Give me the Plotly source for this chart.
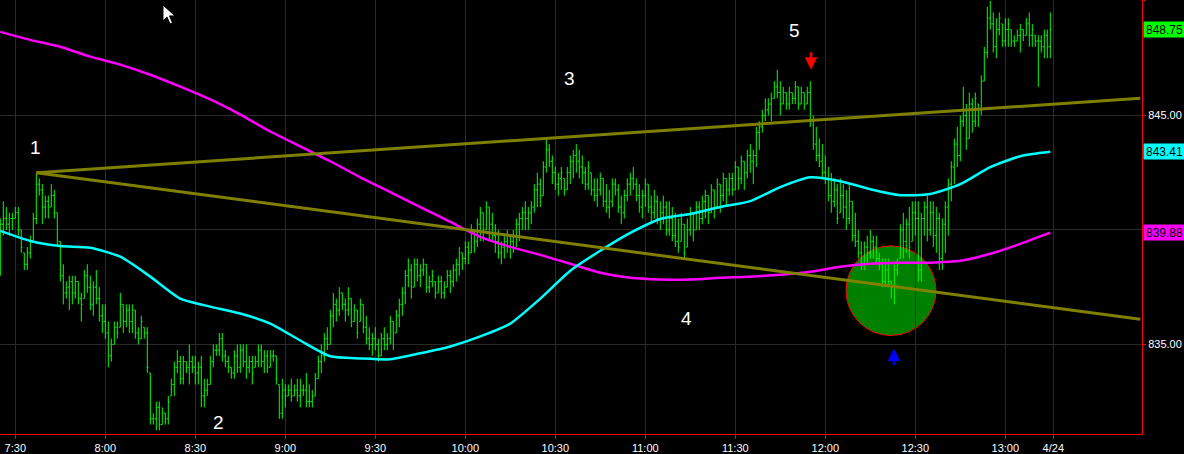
import plotly.graph_objects as go

# ---------------- data (1-minute ES bars, 7:25 .. 13:15) ----------------
opens = [
 839.0, 840.25, 840.5, 840.25, 840.5, 840.5, 840.75, 840.0, 839.0, 838.5,
 839.0, 839.5, 840.5, 842.0, 841.75, 841.0, 841.25, 841.0, 841.5, 840.75,
 839.5, 838.0, 837.25, 837.5, 837.75, 837.25, 837.75, 837.0, 837.0, 838.0,
 837.5, 836.75, 837.5, 837.0, 836.25, 836.0, 835.5, 834.5, 835.0, 835.75,
 835.75, 836.75, 836.0, 836.5, 836.0, 836.5, 835.5, 835.25, 835.75, 835.5,
 833.75, 831.75, 831.75, 832.25, 831.5, 832.0, 831.75, 832.75, 833.25, 834.0,
 834.25, 833.5, 834.25, 834.0, 834.25, 834.0, 833.75, 834.0, 832.75, 833.0,
 833.25, 834.25, 834.75, 834.75, 835.25, 834.5, 834.25, 834.0, 833.75, 834.5,
 834.0, 834.75, 834.25, 834.0, 834.25, 834.0, 834.25, 834.75, 834.25, 834.5,
 834.0, 834.5, 834.5, 833.25, 832.0, 833.0, 832.75, 833.0, 832.75, 833.0,
 832.75, 833.0, 833.0, 832.5, 832.5, 832.75, 833.5, 834.25, 834.5, 835.25,
 835.0, 836.25, 836.75, 836.5, 837.25, 836.75, 836.5, 837.0, 836.0, 836.5,
 836.0, 836.75, 835.75, 835.25, 835.0, 835.25, 835.0, 834.5, 835.25, 835.0,
 835.25, 836.0, 835.5, 836.25, 836.75, 837.25, 838.0, 838.25, 837.5, 838.5,
 838.0, 838.25, 838.5, 837.5, 837.75, 837.75, 837.25, 837.75, 837.25, 837.5,
 838.0, 837.75, 838.25, 838.5, 839.0, 838.75, 839.25, 839.0, 840.0, 839.5,
 840.25, 840.75, 840.0, 841.0, 840.25, 839.75, 839.5, 839.0, 839.25, 839.5,
 839.25, 839.5, 839.75, 840.25, 840.5, 840.75, 840.5, 840.75, 841.0, 841.75,
 842.0, 841.5, 842.75, 843.5, 843.0, 842.5, 842.0, 842.25, 842.25, 841.75,
 842.5, 843.0, 843.25, 843.0, 842.75, 842.5, 842.0, 842.5, 841.75, 841.5,
 841.75, 842.25, 841.25, 841.0, 841.25, 842.0, 841.75, 841.0, 840.75, 841.5,
 842.0, 842.25, 842.0, 841.5, 841.0, 841.5, 842.0, 841.0, 840.75, 841.25,
 840.5, 840.75, 841.0, 840.0, 840.5, 839.75, 839.5, 839.5, 840.25, 839.25,
 840.0, 840.75, 840.0, 841.0, 840.5, 841.25, 841.5, 840.75, 841.75, 841.0,
 842.0, 841.5, 842.25, 841.75, 842.25, 841.75, 842.75, 842.25, 843.0, 842.5,
 843.25, 843.0, 843.25, 844.25, 844.5, 845.0, 845.25, 845.5, 845.75, 846.25,
 846.0, 845.5, 846.0, 845.5, 846.0, 845.75, 846.25, 845.5, 846.0, 845.5,
 846.0, 844.75, 843.75, 843.25, 843.0, 842.5, 842.25, 841.5, 841.25, 841.75,
 840.75, 841.5, 841.0, 840.5, 841.25, 839.75, 839.5, 839.0, 838.5, 839.25,
 839.0, 839.5, 839.25, 838.75, 838.5, 837.75, 838.25, 837.75, 837.5, 838.25,
 838.75, 840.0, 839.5, 840.25, 839.5, 840.75, 840.5, 838.25, 840.5, 841.0,
 840.0, 840.75, 839.75, 840.5, 838.75, 840.25, 841.0, 842.0, 842.75, 843.75,
 843.25, 844.75, 845.0, 844.0, 845.5, 844.75, 845.5, 845.25, 846.5, 847.75,
 849.25, 849.0, 848.0, 848.75, 849.0, 848.25, 848.75, 848.75, 848.25, 848.25,
 848.5, 848.75, 848.5, 849.0, 848.5, 848.5, 848.25, 848.25, 848.0, 848.5,
 848.0,
]
highs = [
 840.5, 841.25, 841.0, 840.75, 840.75, 841.0, 841.0, 840.0, 839.0, 839.25,
 839.75, 840.75, 842.5, 842.25, 842.0, 841.5, 841.5, 842.0, 841.75, 840.75,
 839.5, 838.5, 837.75, 838.0, 838.0, 838.0, 837.75, 837.25, 838.25, 838.5,
 838.0, 837.75, 838.25, 837.5, 836.75, 836.75, 836.0, 835.25, 836.0, 836.0,
 837.25, 836.75, 836.75, 836.75, 836.75, 836.5, 835.75, 836.25, 835.75, 835.75,
 833.75, 832.0, 832.5, 832.5, 832.25, 832.0, 832.75, 833.5, 834.25, 834.75,
 834.5, 834.5, 834.25, 835.0, 834.5, 834.5, 834.25, 834.5, 833.5, 833.5,
 834.5, 835.0, 835.0, 835.5, 835.5, 834.75, 834.5, 834.0, 834.75, 835.0,
 835.0, 835.0, 835.0, 834.5, 834.5, 834.5, 835.0, 835.0, 834.75, 834.75,
 834.75, 834.75, 834.5, 833.25, 833.5, 833.25, 833.25, 833.5, 833.25, 833.5,
 833.5, 833.25, 833.75, 833.25, 833.0, 833.75, 834.5, 835.0, 835.5, 835.75,
 836.5, 837.25, 837.0, 837.5, 837.25, 837.0, 837.5, 837.0, 836.75, 836.5,
 837.0, 836.75, 836.25, 835.75, 835.5, 835.75, 835.25, 835.5, 835.75, 835.5,
 836.25, 836.0, 836.5, 837.0, 837.5, 838.25, 838.75, 838.5, 838.75, 838.75,
 838.5, 838.75, 838.5, 838.0, 838.25, 837.75, 838.0, 838.0, 837.75, 838.25,
 838.25, 838.5, 838.75, 839.25, 839.0, 839.5, 839.5, 840.25, 840.0, 840.5,
 841.0, 840.75, 841.25, 841.0, 840.75, 840.25, 840.0, 839.5, 839.75, 840.0,
 839.75, 840.0, 840.5, 840.75, 841.0, 841.25, 841.0, 841.25, 842.0, 842.5,
 842.25, 843.0, 844.0, 843.75, 843.25, 842.75, 842.5, 842.75, 842.25, 842.75,
 843.25, 843.5, 843.75, 843.5, 843.25, 842.75, 843.0, 842.5, 842.25, 842.25,
 842.5, 842.25, 842.0, 841.75, 842.25, 842.25, 842.0, 841.5, 841.75, 842.25,
 842.5, 842.75, 842.25, 842.0, 841.75, 842.25, 842.0, 841.5, 841.75, 841.5,
 841.25, 841.5, 841.25, 841.25, 841.0, 840.75, 840.5, 840.75, 840.25, 840.5,
 841.0, 840.75, 841.25, 841.25, 841.5, 841.75, 841.5, 842.0, 841.75, 842.25,
 842.0, 842.5, 842.25, 842.5, 842.5, 843.0, 842.75, 843.25, 843.0, 843.5,
 843.75, 843.5, 844.5, 844.75, 845.25, 845.75, 845.75, 846.0, 846.5, 847.0,
 846.5, 846.25, 846.0, 846.25, 846.0, 846.5, 846.25, 846.25, 846.0, 846.25,
 846.5, 845.0, 844.5, 844.0, 843.75, 843.25, 842.75, 842.5, 842.25, 842.0,
 842.25, 842.0, 841.75, 842.0, 841.25, 840.75, 840.0, 839.5, 839.5, 839.75,
 840.0, 839.75, 839.75, 839.0, 838.75, 838.75, 838.75, 837.75, 838.5, 838.75,
 840.25, 840.75, 840.5, 841.0, 841.25, 841.25, 841.25, 840.75, 841.25, 841.5,
 841.25, 841.25, 841.0, 840.75, 840.5, 841.25, 842.25, 843.0, 844.0, 844.5,
 845.0, 846.25, 845.5, 846.0, 845.75, 846.0, 845.5, 846.75, 848.0, 849.75,
 850.0, 849.5, 849.25, 849.5, 849.0, 849.25, 849.25, 848.75, 848.5, 848.75,
 849.0, 848.75, 849.25, 849.5, 849.0, 848.5, 848.5, 848.5, 848.75, 848.75,
 849.5,
]
lows = [
 838.0, 839.75, 840.0, 839.75, 840.0, 840.5, 839.75, 839.0, 838.25, 838.25,
 838.75, 839.5, 840.25, 841.5, 840.25, 840.5, 840.5, 841.0, 840.5, 839.25,
 837.75, 836.75, 837.0, 836.5, 836.75, 837.0, 836.75, 836.0, 837.0, 837.25,
 836.5, 836.25, 836.75, 836.0, 835.5, 835.25, 834.0, 834.25, 835.0, 835.25,
 835.75, 835.5, 835.75, 835.5, 835.5, 835.25, 835.0, 835.25, 835.25, 833.75,
 831.5, 831.5, 831.25, 831.25, 831.5, 831.5, 831.5, 832.75, 832.75, 833.75,
 833.25, 833.25, 833.75, 833.25, 833.75, 833.25, 833.25, 832.25, 832.25, 832.75,
 833.25, 834.0, 834.5, 834.5, 834.25, 834.0, 833.75, 833.5, 833.5, 833.75,
 833.75, 834.0, 833.5, 833.75, 833.25, 834.0, 834.0, 834.0, 833.75, 833.75,
 834.0, 834.25, 833.25, 831.75, 831.75, 832.25, 832.75, 832.5, 832.75, 832.5,
 832.25, 832.75, 832.25, 832.25, 832.25, 832.75, 833.5, 833.75, 834.25, 834.75,
 835.0, 835.75, 836.0, 836.25, 836.5, 836.0, 836.25, 835.75, 836.0, 835.25,
 836.0, 835.5, 835.0, 834.75, 834.5, 834.75, 834.25, 834.5, 834.75, 834.75,
 835.0, 834.75, 835.5, 835.75, 836.25, 836.75, 837.5, 837.0, 837.5, 837.75,
 837.5, 838.0, 837.25, 837.25, 837.5, 837.0, 837.25, 837.0, 837.0, 837.5,
 837.25, 837.5, 837.75, 838.0, 838.25, 838.5, 838.5, 839.0, 839.0, 839.25,
 839.5, 839.5, 840.0, 839.5, 839.5, 839.0, 838.75, 838.5, 838.75, 839.0,
 838.75, 839.0, 839.25, 839.5, 840.0, 840.0, 840.0, 840.25, 840.75, 841.0,
 841.0, 841.5, 842.5, 842.75, 842.0, 841.75, 841.5, 841.75, 841.5, 841.75,
 842.0, 842.25, 842.5, 842.25, 842.0, 841.75, 841.75, 841.5, 841.25, 841.0,
 841.5, 841.0, 840.75, 840.5, 841.0, 841.5, 840.75, 840.25, 840.5, 841.25,
 841.5, 841.75, 841.25, 840.75, 840.5, 841.0, 840.75, 840.25, 840.5, 840.25,
 840.0, 840.25, 839.75, 839.75, 839.5, 839.25, 839.0, 839.5, 838.75, 839.25,
 839.75, 839.5, 840.0, 840.0, 840.25, 840.5, 840.25, 840.75, 840.5, 841.0,
 840.75, 841.25, 841.0, 841.5, 841.5, 841.75, 841.75, 842.0, 841.75, 842.25,
 842.5, 842.0, 842.75, 843.5, 844.25, 844.75, 845.0, 844.75, 845.75, 845.75,
 845.0, 845.5, 845.25, 845.25, 845.5, 845.5, 845.25, 845.5, 845.25, 845.5,
 844.5, 843.5, 843.0, 842.75, 842.25, 842.0, 841.25, 840.75, 841.0, 840.25,
 840.75, 840.5, 840.0, 840.25, 839.5, 839.25, 838.75, 838.25, 838.25, 838.5,
 838.75, 838.75, 838.5, 838.25, 837.5, 837.5, 837.5, 837.0, 836.75, 838.0,
 838.75, 838.75, 839.0, 838.75, 839.5, 839.75, 837.75, 837.75, 839.75, 839.5,
 839.75, 839.25, 839.0, 838.25, 838.25, 839.0, 839.75, 841.25, 842.0, 842.75,
 843.0, 844.5, 843.5, 844.0, 844.25, 844.5, 844.5, 845.0, 846.5, 847.5,
 848.75, 847.75, 847.5, 848.5, 848.0, 848.0, 848.0, 848.0, 848.0, 848.25,
 847.75, 848.25, 848.5, 848.0, 848.0, 848.0, 846.25, 847.75, 847.5, 847.5,
 847.5,
]
closes = [
 840.25, 840.5, 840.25, 840.5, 840.5, 840.75, 840.0, 839.25, 838.5, 839.0,
 839.5, 840.5, 842.0, 841.75, 841.0, 841.25, 841.0, 841.5, 840.75, 839.5,
 838.0, 837.25, 837.5, 837.75, 837.25, 837.75, 837.0, 836.75, 838.0, 837.5,
 836.75, 837.5, 837.0, 836.25, 836.0, 835.5, 834.5, 835.0, 835.75, 835.5,
 836.75, 836.0, 836.5, 836.0, 836.5, 835.5, 835.25, 836.0, 835.5, 834.0,
 831.75, 831.75, 832.25, 831.5, 832.0, 831.75, 832.5, 833.25, 834.0, 834.25,
 833.5, 834.25, 834.0, 834.25, 834.0, 833.75, 834.0, 832.75, 833.0, 833.25,
 834.25, 834.75, 834.75, 835.25, 834.5, 834.25, 834.0, 833.75, 834.5, 834.0,
 834.75, 834.25, 834.0, 834.25, 833.75, 834.25, 834.75, 834.25, 834.5, 834.0,
 834.5, 834.5, 833.5, 832.0, 833.0, 832.75, 833.0, 832.75, 833.0, 832.75,
 833.0, 833.0, 832.5, 832.5, 832.75, 833.5, 834.25, 834.5, 835.25, 835.0,
 836.25, 836.75, 836.5, 837.25, 836.75, 836.5, 837.0, 836.0, 836.5, 835.5,
 836.75, 835.75, 835.25, 835.0, 835.25, 835.0, 834.5, 835.25, 835.0, 835.25,
 836.0, 835.5, 836.25, 836.75, 837.25, 838.0, 838.25, 837.5, 838.5, 838.0,
 838.25, 838.5, 837.5, 837.75, 838.0, 837.25, 837.75, 837.25, 837.5, 838.0,
 837.75, 838.25, 838.5, 839.0, 838.75, 839.25, 839.0, 840.0, 839.5, 840.25,
 840.75, 840.0, 841.0, 840.25, 839.75, 839.5, 839.0, 839.25, 839.5, 839.25,
 839.5, 839.75, 840.25, 840.5, 840.75, 840.5, 840.75, 841.0, 841.75, 842.0,
 841.5, 842.75, 843.5, 843.0, 842.5, 842.0, 842.25, 842.5, 841.75, 842.5,
 843.0, 843.25, 843.0, 842.75, 842.5, 842.0, 842.75, 841.75, 841.5, 841.75,
 842.25, 841.25, 841.0, 841.25, 842.0, 841.75, 841.0, 840.75, 841.5, 842.0,
 842.25, 842.0, 841.5, 841.0, 841.5, 842.0, 841.0, 840.75, 841.25, 840.5,
 840.75, 841.0, 840.0, 840.5, 839.75, 839.5, 839.25, 840.25, 839.0, 840.0,
 840.75, 840.0, 841.0, 840.5, 841.25, 841.5, 840.75, 841.75, 841.0, 842.0,
 841.5, 842.25, 841.75, 842.25, 841.75, 842.75, 842.25, 843.0, 842.5, 843.25,
 843.0, 843.25, 844.25, 844.5, 845.0, 845.25, 845.5, 845.75, 846.25, 846.0,
 845.5, 846.0, 845.5, 846.0, 845.75, 846.25, 845.5, 846.0, 845.5, 846.0,
 844.75, 843.75, 843.25, 843.0, 842.5, 842.25, 841.5, 841.25, 841.75, 840.5,
 841.5, 841.0, 840.5, 841.25, 839.75, 839.5, 839.0, 838.5, 839.25, 839.0,
 839.5, 839.25, 838.75, 838.5, 837.75, 838.25, 837.75, 837.5, 838.25, 838.5,
 840.0, 839.5, 840.25, 839.25, 840.75, 840.5, 838.25, 840.5, 841.0, 840.0,
 840.75, 839.75, 840.5, 838.75, 840.25, 841.0, 842.0, 842.75, 843.75, 843.25,
 844.75, 845.0, 844.0, 845.5, 844.75, 845.75, 845.25, 846.5, 847.75, 849.25,
 849.0, 848.0, 848.75, 849.25, 848.25, 848.75, 849.0, 848.25, 848.25, 848.5,
 848.75, 848.5, 849.0, 848.5, 848.75, 848.25, 848.25, 848.0, 848.5, 848.0,
 848.75,
]
bar_minutes = list(range(-5, -5 + len(closes)))   # minutes after 7:30

# moving averages, sampled every 10 bars
ma_minutes = list(range(-5, 346, 10))
ma_fast = [839.96, 839.52, 839.30, 839.22, 838.83, 837.96, 837.00, 836.65, 836.35, 835.91,
           835.17, 834.48, 834.39, 834.35, 834.61, 834.91, 835.35, 835.91, 837.00, 838.22,
           839.09, 839.87, 840.48, 840.70, 841.00, 841.26, 841.87, 842.30, 842.13, 841.78,
           841.52, 841.57, 842.00, 842.74, 843.22, 843.41]
ma_slow = [848.65, 848.30, 848.00, 847.57, 847.22, 846.78, 846.26, 845.70, 845.04, 844.30,
           843.65, 843.00, 842.30, 841.65, 841.00, 840.35, 839.70, 839.26, 838.91, 838.52,
           838.13, 837.91, 837.83, 837.83, 837.91, 837.96, 838.04, 838.17, 838.39, 838.52,
           838.57, 838.57, 838.65, 838.96, 839.39, 839.88]

# trend lines drawn from the 7:37 high
trend_minutes = [7, 375]
trend_upper = [842.5, 845.75]
trend_lower = [842.5, 836.1]

tick_minutes = [0, 30, 60, 90, 120, 150, 180, 210, 240, 270, 300, 330, 346]
tick_labels = ["7:30", "8:00", "8:30", "9:00", "9:30", "10:00", "10:30", "11:00",
               "11:30", "12:00", "12:30", "13:00", "4/24"]
price_ticks = [835, 840, 845, 850]

# ---------------- figure ----------------
W, H = 1184, 454
PW, PH = 1142, 436  # plot area in px
FONT = "Liberation Sans, Arial, sans-serif"

def px(x):
    return x / PW

def py(y):
    return 1 - y / PH

fig = go.Figure()
fig.add_trace(go.Ohlc(
    x=bar_minutes, open=opens, high=highs, low=lows, close=closes,
    increasing=dict(line=dict(color="#00ff00", width=1)),
    decreasing=dict(line=dict(color="#00ff00", width=1)),
    tickwidth=0.4, hoverinfo="skip", showlegend=False))
fig.add_trace(go.Scatter(x=ma_minutes, y=ma_slow, mode="lines",
                         line=dict(color="#ff00ff", width=2.5, shape="spline", smoothing=0.6),
                         hoverinfo="skip", showlegend=False))
fig.add_trace(go.Scatter(x=ma_minutes, y=ma_fast, mode="lines",
                         line=dict(color="#00ffff", width=2.5, shape="spline", smoothing=0.6),
                         hoverinfo="skip", showlegend=False))
for tl in (trend_upper, trend_lower):
    fig.add_trace(go.Scatter(x=trend_minutes, y=tl, mode="lines",
                             line=dict(color="#808000", width=3),
                             hoverinfo="skip", showlegend=False))

shapes = [
    dict(type="circle", xref="paper", yref="paper",
         x0=px(846), x1=px(936), y0=py(337), y1=py(247),
         fillcolor="#008000", line=dict(color="#ff0000", width=1), layer="between"),
    # mouse pointer
    dict(type="path", xref="paper", yref="paper",
         path="M {:.5f} {:.5f} L {:.5f} {:.5f} L {:.5f} {:.5f} L {:.5f} {:.5f} L {:.5f} {:.5f} L {:.5f} {:.5f} L {:.5f} {:.5f} Z".format(
             px(163), py(5), px(163), py(21), px(167), py(17), px(170), py(24),
             px(172.5), py(23), px(169.5), py(16), px(175), py(16)),
         fillcolor="#ffffff", line=dict(color="#000000", width=1), layer="above"),
]

annotations = []
for txt, x, y in [("1", 35, 148), ("2", 218, 424), ("3", 569, 79), ("4", 686, 320), ("5", 794, 31)]:
    annotations.append(dict(text=txt, xref="paper", yref="paper", x=px(x), y=py(y),
                            xanchor="center", yanchor="middle",
                            showarrow=False, font=dict(family=FONT, size=19, color="#ffffff")))
# arrows
annotations.append(dict(text="", xref="paper", yref="paper", x=px(811), y=py(70),
                        ax=0, ay=-19, showarrow=True, arrowhead=2, arrowsize=1,
                        arrowwidth=2.5, arrowcolor="#ff0000", standoff=0))
annotations.append(dict(text="", xref="paper", yref="paper", x=px(894), y=py(350),
                        ax=0, ay=18, showarrow=True, arrowhead=2, arrowsize=1,
                        arrowwidth=2.5, arrowcolor="#0000ff", standoff=0))
# last-value labels
for val, col in [(closes[-1], "#00ff00"), (ma_fast[-1], "#00ffff"), (ma_slow[-1], "#ff00ff")]:
    annotations.append(dict(text=f"{val:.2f}", xref="paper", yref="y", x=1, y=val,
                            xanchor="left", yanchor="middle", showarrow=False,
                            bgcolor=col, width=39, height=13, borderpad=1, xshift=1,
                            font=dict(family=FONT, size=12, color="#000000")))

fig.update_layout(
    width=W, height=H, autosize=False,
    margin=dict(l=0, r=W - PW, t=0, b=H - PH),
    paper_bgcolor="#000000", plot_bgcolor="#000000",
    font=dict(family=FONT, size=11, color="#ffffff"),
    shapes=shapes, annotations=annotations, showlegend=False,
    xaxis=dict(range=[-5.1, 375.57], tickvals=tick_minutes, ticktext=tick_labels,
               showgrid=True, gridcolor="#2a2a2a", gridwidth=1, zeroline=False,
               showline=True, linecolor="#ff0000", linewidth=1,
               ticks="outside", tickcolor="#ff0000", ticklen=4,
               tickfont=dict(family=FONT, size=11, color="#ffffff"),
               rangeslider=dict(visible=False), fixedrange=True),
    yaxis=dict(side="right", range=[831.087, 850.043], tickvals=price_ticks,
               tickformat=".2f", showgrid=True, gridcolor="#2a2a2a", gridwidth=1,
               zeroline=False, showline=True, linecolor="#ff0000", linewidth=1,
               ticks="outside", tickcolor="#ff0000", ticklen=3,
               tickfont=dict(family=FONT, size=11, color="#ffffff"), fixedrange=True),
)

fig.write_html("out.html", config={"displayModeBar": False},
               post_script="document.body.style.margin='0px';document.body.style.background='#000';")
